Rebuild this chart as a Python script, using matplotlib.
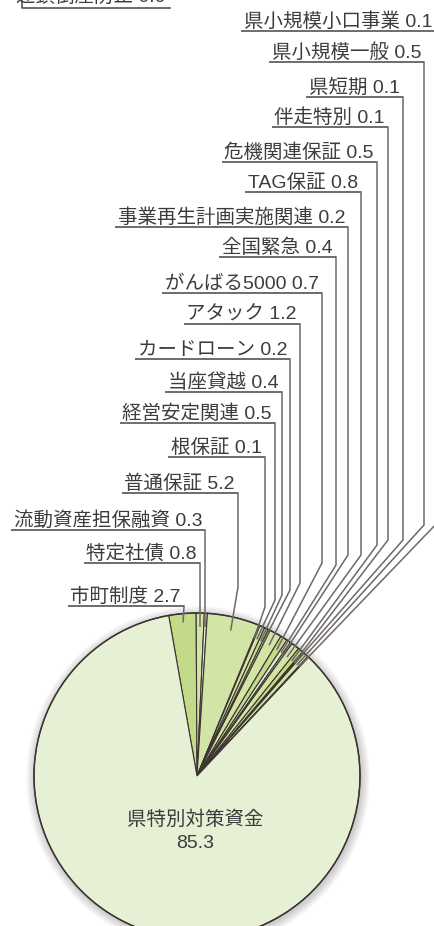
import matplotlib
matplotlib.use("Agg")
import matplotlib.pyplot as plt
from matplotlib.patches import Circle
import numpy as np

# Latin digits from Liberation Sans, kana / kanji from Noto CJK
plt.rcParams['font.family'] = ['Liberation Sans', 'Noto Sans CJK JP', 'DejaVu Sans']

# data, clockwise from the 市町制度 slice
labels = ['市町制度', '特定社債', '流動資産担保融資', '普通保証', '根保証', '経営安定関連',
          '当座貸越', 'カードローン', 'アタック', 'がんばる5000', '全国緊急',
          '事業再生計画実施関連', 'TAG保証', '危機関連保証', '伴走特別', '県短期',
          '県小規模一般', '県小規模小口事業']
values = [2.7, 0.8, 0.3, 5.2, 0.1, 0.5, 0.4, 0.2, 1.2, 0.7, 0.4, 0.2, 0.8, 0.5,
          0.1, 0.1, 0.5, 0.1]
main_label = '県特別対策資金'
main_value = 85.3
top_label = '連鎖倒産防止'
top_value = 0.0

W, H = 434, 926
cx, cy, R = 197, H - 776, 163

# leader layout in pixels from top: underline y, vertical x, bend y
under_y = [606, 563, 530, 493, 457, 423, 392, 359, 324, 293, 257, 227, 192, 162, 127, 97, 62, 31]
vert_x = [184, 200, 205, 238, 265, 275, 282, 290, 300, 322, 336, 348, 361, 377, 388, 403, 424, 440]
bend_y = [None, None, None, 587, 607, 600, 595, 590, 583, 563, 565, 555, 555, 545, 540, 540, 525, 520]

main_col = '#e6f0d4'
slice_cols = ['#c3da88', '#d2e4a6', '#e6f0d4', '#d2e4a6', '#c3da88', '#d2e4a6',
              '#c3da88', '#e6f0d4', '#d2e4a6', '#c3da88', '#e6f0d4', '#c3da88',
              '#d2e4a6', '#c3da88', '#e6f0d4', '#c3da88', '#d2e4a6', '#e6f0d4']
edge = '#3d3431'
txt = '#3c3c3c'
lead = '#6e6866'
fs = 14

fig = plt.figure(figsize=(W / 100, H / 100), dpi=100)
ax = fig.add_axes([0, 0, 1, 1])

# soft shadow
for k in range(10, 0, -1):
    ax.add_patch(Circle((cx + 1, cy - 2), R + k * 0.9, color='#000000',
                        alpha=0.02, lw=0, zorder=0))

vals = values + [main_value]
cols = slice_cols + [main_col]
total = sum(vals)
start = 100.0
ax.pie(vals, colors=cols, startangle=start, counterclock=False,
       center=(cx, cy), radius=R,
       wedgeprops=dict(edgecolor=edge, linewidth=0.8), frame=False)
ax.add_patch(Circle((cx, cy), R, fill=False, ec=edge, lw=1.1, zorder=5))

ax.set_xlim(0, W)
ax.set_ylim(0, H)
ax.set_aspect('equal')
ax.axis('off')

fig.canvas.draw()
rend = fig.canvas.get_renderer()

# leaders and labels
cum = 0.0
for i, (lab, v) in enumerate(zip(labels, values)):
    span = v / total * 360
    mid = start - (cum + span / 2)
    cum += span
    a = np.radians(mid)
    r_end = 0.95 if i == 0 else 0.92
    ex, ey = cx + R * r_end * np.cos(a), cy + R * r_end * np.sin(a)
    uy = H - under_y[i]
    vx = vert_x[i]
    t = ax.text(min(vx - 3, W - 2), uy + 4, f'{lab} {v}', ha='right', va='baseline',
                fontsize=fs, color=txt, zorder=6)
    bb = t.get_window_extent(rend)
    x0 = bb.x0 - 3
    if bend_y[i] is None:
        if i == 0:
            xs, ys = [x0, vx, ex], [uy, uy, ey]
        else:
            xs, ys = [x0, vx, vx, ex], [uy, uy, ey + 6, ey]
    else:
        by = H - bend_y[i]
        xs, ys = [x0, vx, vx, ex], [uy, uy, by, ey]
    ax.plot(xs[:2], ys[:2], color='#4a4442', lw=1.1, zorder=6, solid_capstyle='butt')
    ax.plot(xs[1:], ys[1:], color=lead, lw=1.1, zorder=6, solid_joinstyle='miter')

# label cut off at the top
ax.text(166, H - 2, f'{top_label} {top_value}', ha='right', va='baseline',
        fontsize=fs, color=txt)
ax.plot([22, 22, 170], [H + 5, H - 8, H - 8], color='#4a4442', lw=1.1)

# main slice label
ax.text(cx - 2, H - 820, main_label, ha='center', va='center', fontsize=fs, color=txt, zorder=6)
ax.text(cx - 2, H - 843, f'{main_value}', ha='center', va='center', fontsize=fs, color=txt, zorder=6)

fig.savefig('out.png', dpi=100, facecolor='white')
